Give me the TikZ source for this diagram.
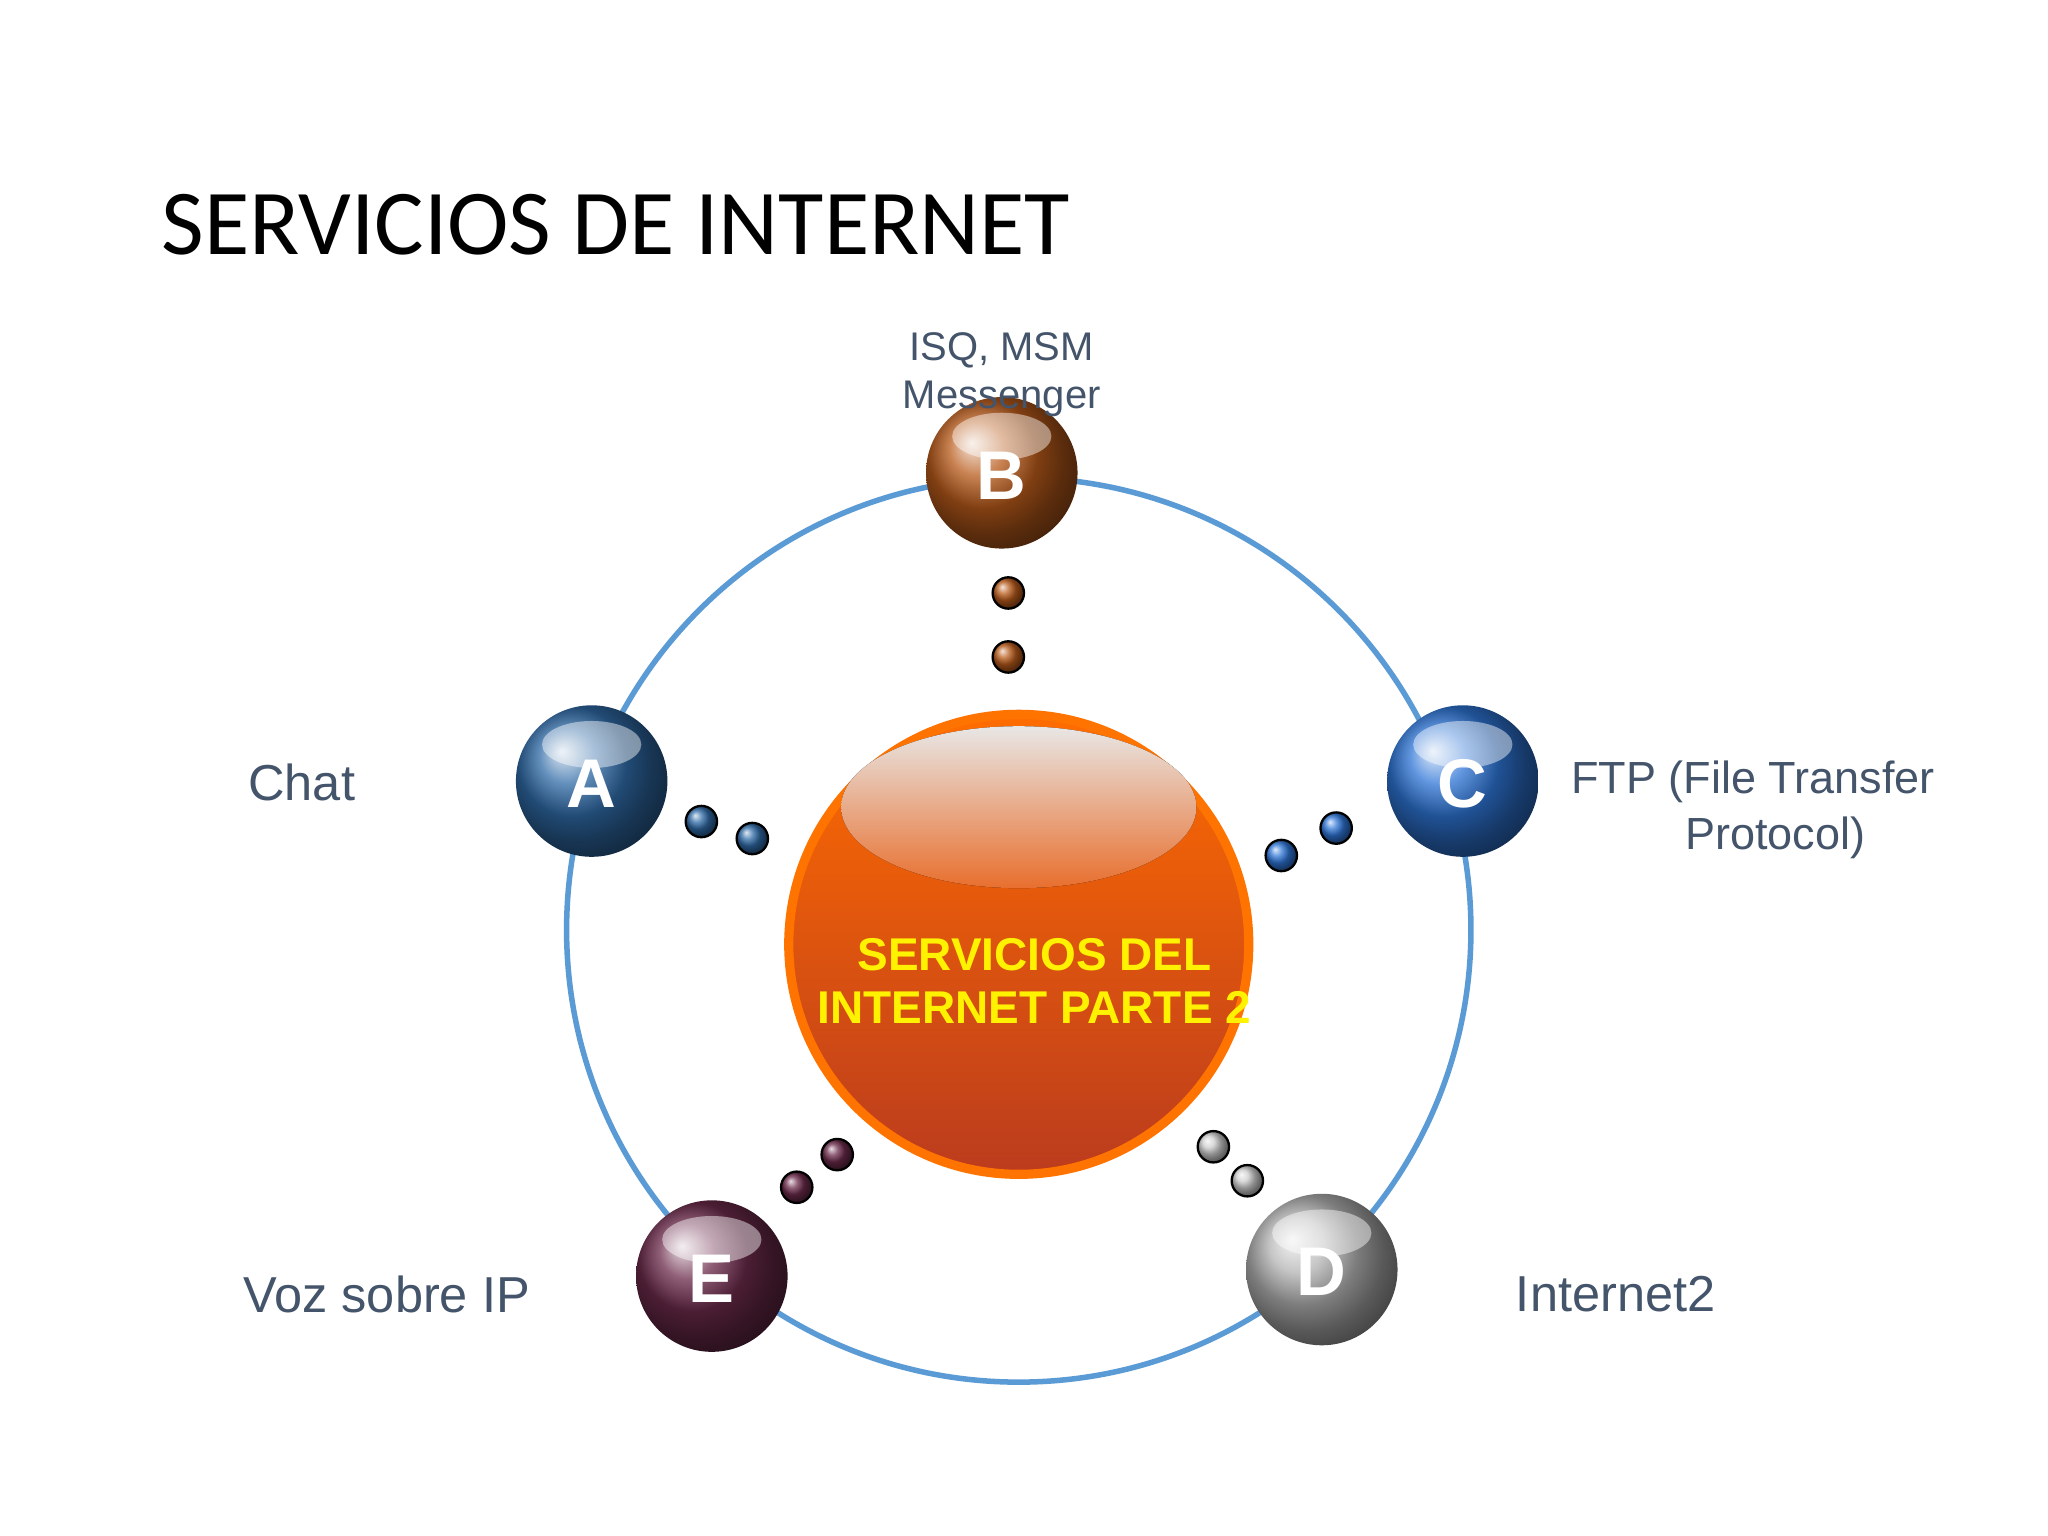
\documentclass[tikz,border=0pt]{standalone}
\usepackage{fontspec}
\setmainfont{Liberation Sans}
\newfontfamily\titlefont{Carlito}
\definecolor{ringc}{HTML}{5B9BD5}
\definecolor{labc}{HTML}{44546A}
\definecolor{steel}{HTML}{2F6AA6}
\definecolor{bluec}{HTML}{2E75D6}
\definecolor{brownb}{HTML}{B85A1A}
\definecolor{plum}{HTML}{6B2A4A}
\begin{document}
\begin{tikzpicture}[x=0.01cm,y=-0.01cm,
  lbl/.style={text=labc, font=\fontsize{8.7}{10.5}\selectfont, align=center},
  letter/.style={text=white, font=\bfseries\fontsize{15}{16}\selectfont},
  dot/.style={circle, draw=black, line width=0.5pt, minimum size=0.24cm, inner sep=0pt}]
\useasboundingbox (0,0) rectangle (1568,1176);
\fill[white] (0,0) rectangle (1568,1176);
\node[anchor=base west, inner sep=0pt, font=\titlefont\fontsize{20.2}{24}\selectfont] (title) at (123,195) {SERVICIOS DE INTERNET};
\node[circle, draw=ringc, line width=1.2pt, minimum size=6.92cm, inner sep=0pt] (ring) at (780,712) {};
% center sphere
\node[circle, minimum size=3.52cm, inner sep=0pt, top color=orange!85!red, bottom color=red!45!brown!85!black, draw=orange!90!red, line width=2pt] (center) at (780,723) {};
\fill[top color=white, bottom color=orange!70!red!80, opacity=0.9] (780,618) ellipse (136 and 62);
\node[text=yellow, font=\bfseries\fontsize{10}{11.5}\selectfont, align=center] (ct) at (792,751) {SERVICIOS DEL\\ INTERNET PARTE 2};
% balls
\foreach \n/\x/\y/\c/\l in {B/767/362/brownb/B, A/453/598/steel/A, C/1120/598/bluec/C, D/1012/972/gray!60/D, E/545/977/plum/E}{
  \shade[ball color=\c] (\x,\y) circle (58);
  \fill[white, opacity=0.45] (\x,\y-28) ellipse (38 and 18);
  \node[letter] (\n) at (\x,\y+2) {\l};
}
% dots
\foreach \i/\x/\y/\c in {1/772/454/brownb, 2/772/503/brownb, 3/537/629/steel, 4/576/642/steel, 5/981/655/bluec, 6/1023/634/bluec, 7/929/878/gray!40, 8/955/904/gray!40, 9/610/909/plum, 10/641/884/plum}{
  \node[dot, ball color=\c] (d\i) at (\x,\y) {};
}
\node[lbl] (lb) at (767,287) {ISQ, MSM\\Messenger};
\node[lbl, font=\fontsize{11}{13.5}\selectfont] (la) at (231,599) {Chat};
\node[lbl, font=\fontsize{9.8}{12}\selectfont] (lc) at (1342,620) {FTP (File Transfer\\ \quad Protocol)};
\node[lbl, font=\fontsize{11}{13.5}\selectfont] (le) at (296,991) {Voz sobre IP};
\node[lbl, font=\fontsize{11}{13.5}\selectfont] (ld) at (1237,991) {Internet2};
\end{tikzpicture}
\end{document}
